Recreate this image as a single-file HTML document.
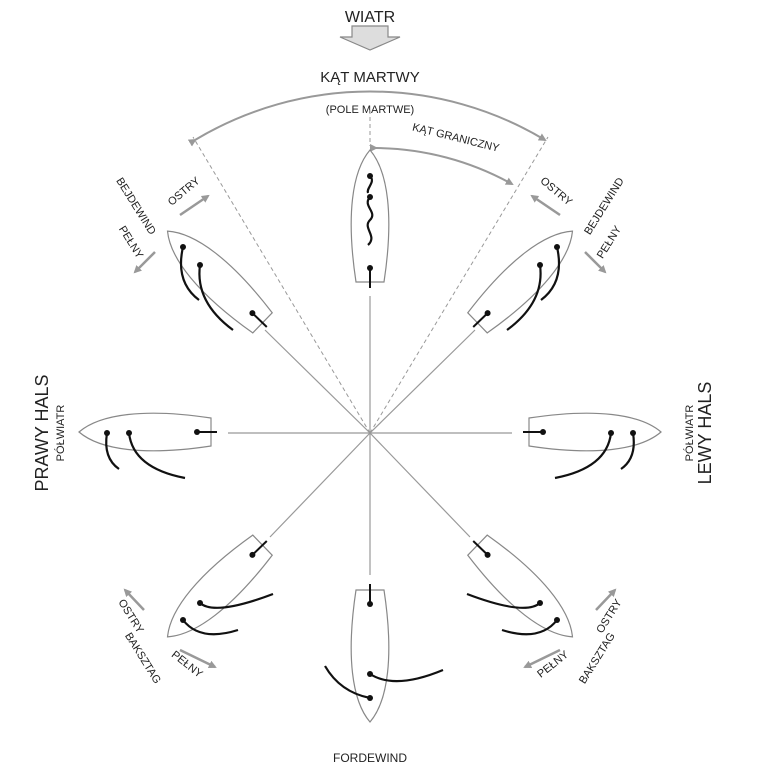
<!DOCTYPE html>
<html><head><meta charset="utf-8"><style>
html,body{margin:0;padding:0;background:#fff}
svg{display:block}
text{font-family:"Liberation Sans",sans-serif;fill:#222}
</style></head><body>
<svg width="759" height="777" viewBox="0 0 759 777" xmlns="http://www.w3.org/2000/svg">
<defs>
<marker id="ah" markerWidth="8" markerHeight="8" refX="6" refY="4" orient="auto" markerUnits="userSpaceOnUse"><path d="M0,0 L8,4 L0,8 Z" fill="#999"/></marker>
<g id="hull"><path d="M0,-66 C18,-45 24,0 14,66 L-14,66 C-24,0 -18,-45 0,-66 Z" fill="#fff" stroke="#888" stroke-width="1.2"/>
<line x1="0" y1="52" x2="0" y2="72" stroke="#111" stroke-width="2"/><circle cx="0" cy="52" r="3" fill="#111"/></g>
</defs>

<!-- wind -->
<g>
<path d="M352,26 L388,26 L388,37 L400,37 L370,50 L340,37 L352,37 Z" fill="#ddd" stroke="#888" stroke-width="1.2"/>
</g>
<text x="370" y="22" font-size="16" text-anchor="middle">WIATR</text>
<text x="370" y="82" font-size="15" text-anchor="middle">KĄT MARTWY</text>
<text x="370" y="113" font-size="11" text-anchor="middle">(POLE MARTWE)</text>
<text x="455" y="141" font-size="11" text-anchor="middle" transform="rotate(14 455 141)">KĄT GRANICZNY</text>

<!-- arcs -->
<path d="M195,140 A340,340 0 0 1 545,140" fill="none" stroke="#999" stroke-width="2" marker-start="url(#ah)" marker-end="url(#ah)"/>
<path d="M376,148 A285,285 0 0 1 512,184" fill="none" stroke="#999" stroke-width="2" marker-start="url(#ah)" marker-end="url(#ah)"/>

<!-- dashed -->
<g stroke="#999" stroke-width="1" stroke-dasharray="4,3" fill="none">
<line x1="370" y1="433" x2="193" y2="137"/>
<line x1="370" y1="433" x2="548" y2="137"/>
<line x1="370" y1="110" x2="370" y2="146"/>
</g>
<!-- radial lines -->
<g stroke="#999" stroke-width="1.2">
<line x1="370" y1="433" x2="370" y2="296"/>
<line x1="370" y1="433" x2="265" y2="330"/>
<line x1="370" y1="433" x2="475" y2="330"/>
<line x1="370" y1="433" x2="228" y2="433"/>
<line x1="370" y1="433" x2="512" y2="433"/>
<line x1="370" y1="433" x2="270" y2="537"/>
<line x1="370" y1="433" x2="470" y2="537"/>
<line x1="370" y1="433" x2="370" y2="575"/>
</g>

<!-- boats -->
<use href="#hull" transform="translate(370,216)"/>
<use href="#hull" transform="translate(215,277) rotate(-46)"/>
<use href="#hull" transform="translate(525,277) rotate(46)"/>
<use href="#hull" transform="translate(145,432) rotate(-90)"/>
<use href="#hull" transform="translate(595,432) rotate(90)"/>
<use href="#hull" transform="translate(215,591) rotate(-134)"/>
<use href="#hull" transform="translate(525,591) rotate(134)"/>
<use href="#hull" transform="translate(370,656) rotate(180)"/>

<!-- sails -->
<g stroke="#111" stroke-width="2.2" fill="none">
<path d="M370,176 C376,182 366,188 368,193"/>
<path d="M370,197 C362,206 378,212 370,220 C362,228 378,236 368,245"/>
<path d="M183,247 Q175,282 199,300"/><path d="M200,265 Q195,302 233,330"/>
<path d="M557,247 Q565,282 541,300"/><path d="M540,265 Q545,302 507,330"/>
<path d="M107,433 Q103,458 119,469"/><path d="M129,433 Q133,468 185,478"/>
<path d="M633,433 Q637,458 621,469"/><path d="M611,433 Q607,468 555,478"/>
<path d="M200,603 Q215,616 273,594"/><path d="M183,620 Q200,642 238,630"/>
<path d="M540,603 Q525,616 467,594"/><path d="M557,620 Q540,642 502,630"/>
<path d="M370,674 Q395,690 443,670"/><path d="M370,698 Q340,692 325,666"/>
</g>
<g fill="#111">
<circle cx="370" cy="176" r="3"/><circle cx="370" cy="197" r="3"/>
<circle cx="183" cy="247" r="3"/><circle cx="200" cy="265" r="3"/>
<circle cx="557" cy="247" r="3"/><circle cx="540" cy="265" r="3"/>
<circle cx="107" cy="433" r="3"/><circle cx="129" cy="433" r="3"/>
<circle cx="633" cy="433" r="3"/><circle cx="611" cy="433" r="3"/>
<circle cx="200" cy="603" r="3"/><circle cx="183" cy="620" r="3"/>
<circle cx="540" cy="603" r="3"/><circle cx="557" cy="620" r="3"/>
<circle cx="370" cy="674" r="3"/><circle cx="370" cy="698" r="3"/>
</g>

<!-- side labels -->
<text font-size="18" text-anchor="middle" transform="translate(48,433) rotate(-90)">PRAWY HALS</text>
<text font-size="11" text-anchor="middle" transform="translate(64,433) rotate(-90)">PÓŁWIATR</text>
<text font-size="18" text-anchor="middle" transform="translate(711,433) rotate(-90)">LEWY HALS</text>
<text font-size="11" text-anchor="middle" transform="translate(693,433) rotate(-90)">PÓŁWIATR</text>
<text x="370" y="762" font-size="12" text-anchor="middle">FORDEWIND</text>

<!-- upper-left group -->
<text font-size="11" text-anchor="middle" transform="translate(133,208) rotate(58)">BEJDEWIND</text>
<text font-size="11" text-anchor="middle" transform="translate(186,194) rotate(-40)">OSTRY</text>
<text font-size="11" text-anchor="middle" transform="translate(128,244) rotate(58)">PEŁNY</text>
<line x1="180" y1="215" x2="208" y2="196" stroke="#999" stroke-width="2.5" marker-end="url(#ah)"/>
<line x1="155" y1="252" x2="135" y2="272" stroke="#999" stroke-width="2.5" marker-end="url(#ah)"/>
<!-- upper-right group -->
<text font-size="11" text-anchor="middle" transform="translate(607,208) rotate(-58)">BEJDEWIND</text>
<text font-size="11" text-anchor="middle" transform="translate(554,194) rotate(40)">OSTRY</text>
<text font-size="11" text-anchor="middle" transform="translate(612,244) rotate(-58)">PEŁNY</text>
<line x1="560" y1="215" x2="532" y2="196" stroke="#999" stroke-width="2.5" marker-end="url(#ah)"/>
<line x1="585" y1="252" x2="605" y2="272" stroke="#999" stroke-width="2.5" marker-end="url(#ah)"/>
<!-- lower-left group -->
<text font-size="11" text-anchor="middle" transform="translate(128,618) rotate(58)">OSTRY</text>
<text font-size="11" text-anchor="middle" transform="translate(140,660) rotate(58)">BAKSZTAG</text>
<text font-size="11" text-anchor="middle" transform="translate(185,667) rotate(38)">PEŁNY</text>
<line x1="144" y1="610" x2="125" y2="590" stroke="#999" stroke-width="2.5" marker-end="url(#ah)"/>
<line x1="180" y1="650" x2="215" y2="667" stroke="#999" stroke-width="2.5" marker-end="url(#ah)"/>
<!-- lower-right group -->
<text font-size="11" text-anchor="middle" transform="translate(612,618) rotate(-58)">OSTRY</text>
<text font-size="11" text-anchor="middle" transform="translate(600,660) rotate(-58)">BAKSZTAG</text>
<text font-size="11" text-anchor="middle" transform="translate(555,667) rotate(-38)">PEŁNY</text>
<line x1="596" y1="610" x2="615" y2="590" stroke="#999" stroke-width="2.5" marker-end="url(#ah)"/>
<line x1="560" y1="650" x2="525" y2="667" stroke="#999" stroke-width="2.5" marker-end="url(#ah)"/>
</svg>
</body></html>
